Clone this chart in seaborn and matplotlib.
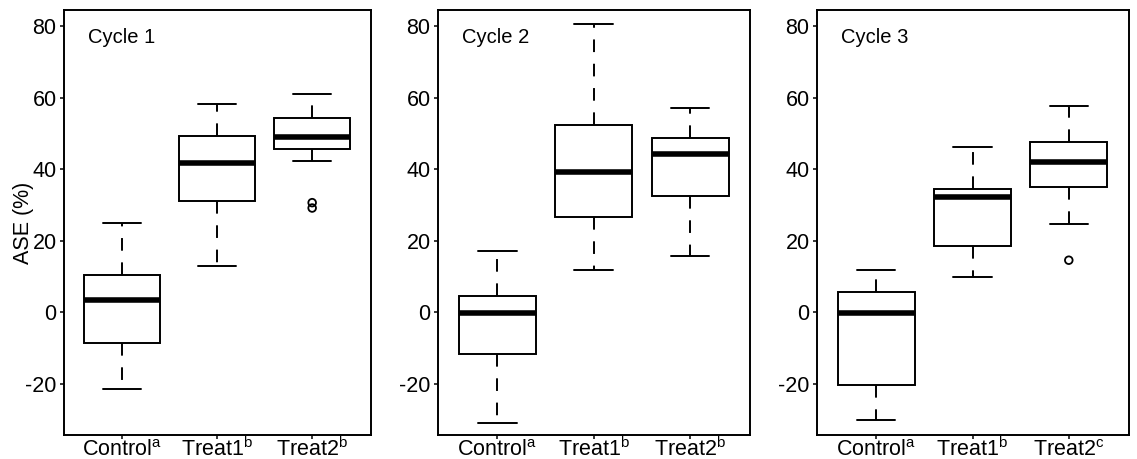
import matplotlib
matplotlib.use("Agg")
import matplotlib.pyplot as plt
import pandas as pd
import seaborn as sns

groups = ["Control", "Treat1", "Treat2"]
cycle_names = ["Cycle 1", "Cycle 2", "Cycle 3"]
letters = [["a", "b", "b"], ["a", "b", "b"], ["a", "b", "c"]]
y_ticks = [-20, 0, 20, 40, 60, 80]
y_label = "ASE (%)"

# five-number summaries: lower whisker, Q1, median, Q3, upper whisker
cycle1_control = [-21.5, -8.8, 3.4, 10.3, 24.9]
cycle1_treat1 = [13.0, 31.1, 41.7, 49.3, 58.2]
cycle1_treat2 = [42.2, 45.6, 49.0, 54.2, 61.1]
cycle1_outliers_treat2 = [29.1, 30.6]

cycle2_control = [-31.1, -11.7, -0.4, 4.5, 17.1]
cycle2_treat1 = [11.7, 26.5, 39.1, 52.4, 80.7]
cycle2_treat2 = [15.8, 32.4, 44.1, 48.8, 57.1]
cycle2_outliers_treat2 = []

cycle3_control = [-30.1, -20.3, -0.4, 5.7, 11.7]
cycle3_treat1 = [9.9, 18.6, 32.2, 34.5, 46.2]
cycle3_treat2 = [24.6, 34.9, 42.0, 47.6, 57.7]
cycle3_outliers_treat2 = [14.5]

summaries = [
    [cycle1_control, cycle1_treat1, cycle1_treat2],
    [cycle2_control, cycle2_treat1, cycle2_treat2],
    [cycle3_control, cycle3_treat1, cycle3_treat2],
]
outliers = [cycle1_outliers_treat2, cycle2_outliers_treat2, cycle3_outliers_treat2]

sns.set_style("ticks", {
    "axes.edgecolor": "black",
    "xtick.color": "black",
    "ytick.color": "black",
    "text.color": "black",
    "axes.labelcolor": "black",
})
plt.rcParams["font.family"] = ["Liberation Sans", "DejaVu Sans"]
plt.rcParams["mathtext.fontset"] = "custom"
plt.rcParams["mathtext.rm"] = "Liberation Sans"
plt.rcParams["mathtext.it"] = "Liberation Sans:italic"
plt.rcParams["axes.linewidth"] = 1.4
plt.rcParams["xtick.major.size"] = 3
plt.rcParams["ytick.major.size"] = 3
plt.rcParams["xtick.major.width"] = 1.1
plt.rcParams["ytick.major.width"] = 1.1
plt.rcParams["ytick.major.pad"] = 2

W, H = 1137, 459
fig = plt.figure(figsize=(W / 100, H / 100), dpi=100)

panel_px = [(63.5, 307.5), (437.5, 312.5), (816.5, 312.0)]
bottom_px, height_px = 24.0, 425.0

lw = 1.4
for i, (left, width) in enumerate(panel_px):
    ax = fig.add_axes([left / W, bottom_px / H, width / W, height_px / H])

    rows = []
    for g, stats in zip(groups, summaries[i]):
        rows += [{"group": g, "value": v} for v in stats]
    df = pd.DataFrame(rows)

    sns.boxplot(
        data=df, x="group", y="value", order=groups, ax=ax,
        width=0.8, color="white", linecolor="black", linewidth=lw,
        whis=1.5, fliersize=0, saturation=1,
        whiskerprops={"linestyle": (0, (6.5, 6))},
        medianprops={"linewidth": 4.0, "solid_capstyle": "butt"},
        capprops={"linewidth": lw},
    )

    if outliers[i]:
        odf = pd.DataFrame({"group": ["Treat2"] * len(outliers[i]),
                            "value": outliers[i]})
        sns.stripplot(data=odf, x="group", y="value", order=groups, ax=ax,
                      jitter=False, color="black", size=5.5, linewidth=1.3,
                      edgecolor="black")
        ax.collections[-1].set_facecolor("none")
        ax.collections[-1].set_edgecolor("black")

    ax.set_xlim(-0.62, 2.62)
    ax.set_ylim(-34.4, 84.5)
    ax.set_yticks(y_ticks)
    ax.set_yticklabels([str(t) for t in y_ticks])
    ax.set_xticks(range(len(groups)))
    ax.set_xticklabels([f"{g}$^{{\\mathrm{{{l}}}}}$" for g, l in zip(groups, letters[i])])
    ax.tick_params(axis="both", labelsize=15.5, direction="out",
                   top=False, right=False)
    # place the category labels on a common baseline
    ax.tick_params(axis="x", pad=12)
    for lbl in ax.get_xticklabels():
        lbl.set_verticalalignment("baseline")
    ax.set_xlabel("")
    ax.set_ylabel("")
    for s in ax.spines.values():
        s.set_visible(True)
        s.set_linewidth(lw)
    ax.text(0.08, 0.922, cycle_names[i], transform=ax.transAxes,
            fontsize=14.5, ha="left", va="baseline")

fig.text(23 / W, 1 - 222.5 / H, y_label, rotation=90, fontsize=15.5,
         ha="center", va="center")

fig.savefig("out.png", dpi=100)
